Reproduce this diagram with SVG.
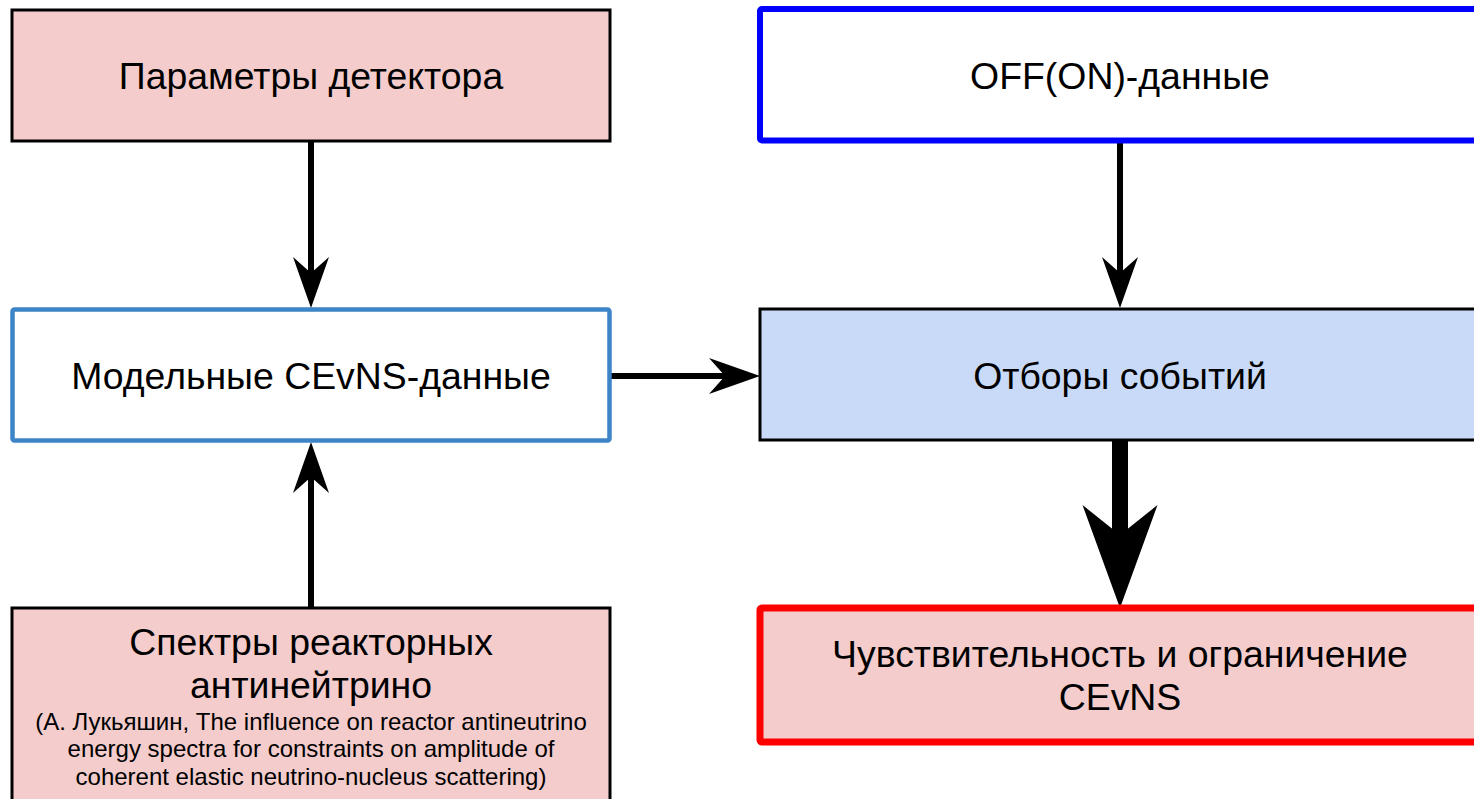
<svg xmlns="http://www.w3.org/2000/svg" width="1474" height="799" viewBox="0 0 1474 799">
<style>
.t{font-family:"Liberation Sans",Arial,sans-serif;font-size:37.4px;fill:#000;text-anchor:middle}
.s{font-family:"Liberation Sans",Arial,sans-serif;font-size:24px;fill:#000;text-anchor:middle}
.pink{fill:#f4cccc}
.blk{stroke:#000;stroke-width:3}
.conn{stroke:#000;fill:none}
</style>
<defs>
<marker id="ah" markerUnits="userSpaceOnUse" viewBox="-17 -19 54 38" refX="0" refY="0" markerWidth="54" markerHeight="38" orient="auto" overflow="visible">
<path d="M35,0 L-16,-18 L0,0 L-16,18 Z" fill="#000"/>
</marker>
<marker id="big" markerUnits="userSpaceOnUse" viewBox="-31 -39 106 78" refX="0" refY="0" markerWidth="106" markerHeight="78" orient="auto" overflow="visible">
<path d="M73,0 L-30,-37.5 L0,0 L-30,37.5 Z" fill="#000"/>
</marker>
</defs>
<rect width="1474" height="799" fill="#fff"/>
<g id="conns">
<line class="conn" x1="311" y1="141" x2="311" y2="273" stroke-width="6" marker-end="url(#ah)"/>
<line class="conn" x1="1120" y1="141" x2="1120" y2="273" stroke-width="6" marker-end="url(#ah)"/>
<line class="conn" x1="610" y1="376" x2="725" y2="376" stroke-width="6" marker-end="url(#ah)"/>
<line class="conn" x1="311" y1="608" x2="311" y2="477" stroke-width="6" marker-end="url(#ah)"/>
<line class="conn" x1="1120" y1="441" x2="1120" y2="535" stroke-width="16" marker-end="url(#big)"/>
</g>
<g id="n1">
<rect x="12" y="10" width="598" height="131" class="pink blk"/>
<text x="311" y="89" class="t">Параметры детектора</text>
</g>
<g id="n2">
<rect x="760" y="9" width="730" height="131.5" rx="2" fill="#fff" stroke="#0000ff" stroke-width="6"/>
<text x="1120" y="89" class="t">OFF(ON)-данные</text>
</g>
<g id="n3">
<rect x="12.5" y="309.5" width="597" height="131" rx="2" fill="#fff" stroke="#3d85c6" stroke-width="4.5"/>
<text x="311" y="389" class="t">Модельные CEvNS-данные</text>
</g>
<g id="n4">
<rect x="760" y="309" width="730" height="131" fill="#c9daf8" class="blk"/>
<text x="1120" y="389" class="t">Отборы событий</text>
</g>
<g id="n5">
<rect x="760" y="608" width="730" height="134" rx="2" class="pink" stroke="#ff0000" stroke-width="7"/>
<text x="1120" y="667" class="t">Чувствительность и ограничение</text>
<text x="1120" y="710" class="t">CEvNS</text>
</g>
<g id="n6">
<rect x="12" y="608" width="598" height="210" class="pink blk"/>
<text x="311" y="655" class="t">Спектры реакторных</text>
<text x="311" y="698" class="t">антинейтрино</text>
<text x="311" y="730" class="s">(А. Лукьяшин, The influence on reactor antineutrino</text>
<text x="311" y="757" class="s">energy spectra for constraints on amplitude of</text>
<text x="311" y="785" class="s">coherent elastic neutrino-nucleus scattering)</text>
</g>
</svg>
